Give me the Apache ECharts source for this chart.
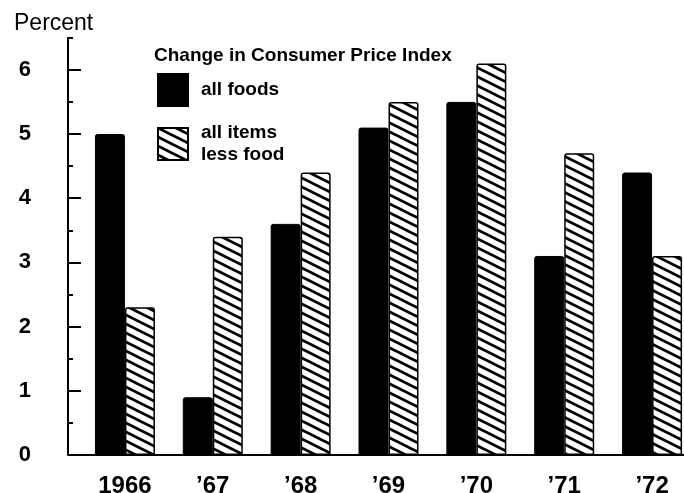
<!DOCTYPE html>
<html>
<head>
<meta charset="utf-8">
<style>
  html, body { margin: 0; padding: 0; background: #fff; }
  #chart { width: 684px; height: 493px; }
</style>
<script src="https://cdn.jsdelivr.net/npm/echarts@6/dist/echarts.min.js"></script>
</head>
<body>
<div id="chart"></div>
<script>
// data
var years = ['1966', '\u201967', '\u201968', '\u201969', '\u201970', '\u201971', '\u201972'];
var allFoods = [5.0, 0.9, 3.6, 5.1, 5.5, 3.1, 4.4];
var lessFood = [2.3, 3.4, 4.4, 5.5, 6.1, 4.7, 3.1];
var majorTicks = [0, 1, 2, 3, 4, 5, 6];
var minorTicks = [0.5, 1.5, 2.5, 3.5, 4.5, 5.5, 6.5];

var FONT = '"Liberation Sans", Arial, sans-serif';
var gridLeft = 81, axisShift = 13, gridBottom = 38;

// diagonal hatch tile
function makeHatch() {
  var c = document.createElement('canvas');
  c.width = 18; c.height = 9;
  var ctx = c.getContext('2d');
  ctx.fillStyle = '#fff';
  ctx.fillRect(0, 0, 18, 9);
  ctx.strokeStyle = '#000';
  ctx.lineWidth = 2.8;
  [-9, 0, 9].forEach(function (dy) {
    ctx.beginPath();
    ctx.moveTo(-2, dy - 1);
    ctx.lineTo(20, dy + 10);
    ctx.stroke();
  });
  return c;
}
var hatch = { image: makeHatch(), repeat: 'repeat' };

var chart = echarts.init(document.getElementById('chart'));
var option = {
  backgroundColor: '#fff',
  animation: false,
  title: [
    { text: 'Percent', left: 9, top: 7,
      textStyle: { fontFamily: FONT, fontSize: 23, fontWeight: 'normal', color: '#000' } },
    { text: 'Change in Consumer Price Index', left: 149, top: 41,
      textStyle: { fontFamily: FONT, fontSize: 19, fontWeight: 'bold', color: '#000' } }
  ],
  legend: {
    orient: 'vertical',
    left: 152, top: 68,
    itemWidth: 30, itemHeight: 32, itemGap: 15,
    icon: 'rect',
    textStyle: { fontFamily: FONT, fontSize: 19, fontWeight: 'bold', color: '#000', lineHeight: 22, padding: [0, 0, 0, 8] },
    data: ['all foods', 'all items\nless food']
  },
  grid: { left: gridLeft, right: -12, top: 37.7, bottom: gridBottom, outerBoundsMode: 'none', containLabel: false },
  xAxis: {
    type: 'category',
    data: years,
    axisLine: { lineStyle: { color: '#000', width: 2 } },
    axisTick: { show: false },
    axisLabel: { fontFamily: FONT, fontSize: 24, fontWeight: 'bold', color: '#000', margin: 19 }
  },
  yAxis: [
    {
      type: 'value', min: 0, max: 6.5, interval: 0.5, offset: axisShift,
      splitLine: { show: false },
      axisLine: { show: true, lineStyle: { color: '#000', width: 2 } },
      axisTick: { show: true, inside: true, length: 5, customValues: minorTicks, lineStyle: { color: '#000', width: 2 } },
      axisLabel: { show: false }
    },
    {
      type: 'value', min: 0, max: 6.5, interval: 0.5, offset: axisShift, position: 'left',
      splitLine: { show: false },
      axisLine: { show: true, lineStyle: { color: 'rgba(0,0,0,0)', width: 0 } },
      axisTick: { show: true, inside: true, length: 13, customValues: majorTicks, lineStyle: { color: '#000', width: 2 } },
      axisLabel: { fontFamily: FONT, fontSize: 22, fontWeight: 'bold', color: '#000', margin: 37, customValues: majorTicks }
    }
  ],
  graphic: [{
    type: 'line',
    shape: { x1: gridLeft - axisShift, y1: 493 - gridBottom, x2: gridLeft + 1, y2: 493 - gridBottom },
    style: { stroke: '#000', lineWidth: 2 }
  }],
  series: [
    {
      name: 'all foods', type: 'bar', data: allFoods,
      barWidth: 30, barGap: '0%',
      itemStyle: { color: '#000', borderColor: '#000', borderWidth: 1, borderRadius: [2, 2, 0, 0] }
    },
    {
      name: 'all items\nless food', type: 'bar', data: lessFood,
      barWidth: 30, barGap: '0%',
      itemStyle: { color: hatch, borderColor: '#000', borderWidth: 1.5, borderRadius: [2, 2, 0, 0] }
    }
  ]
};
chart.setOption(option);
</script>
</body>
</html>
